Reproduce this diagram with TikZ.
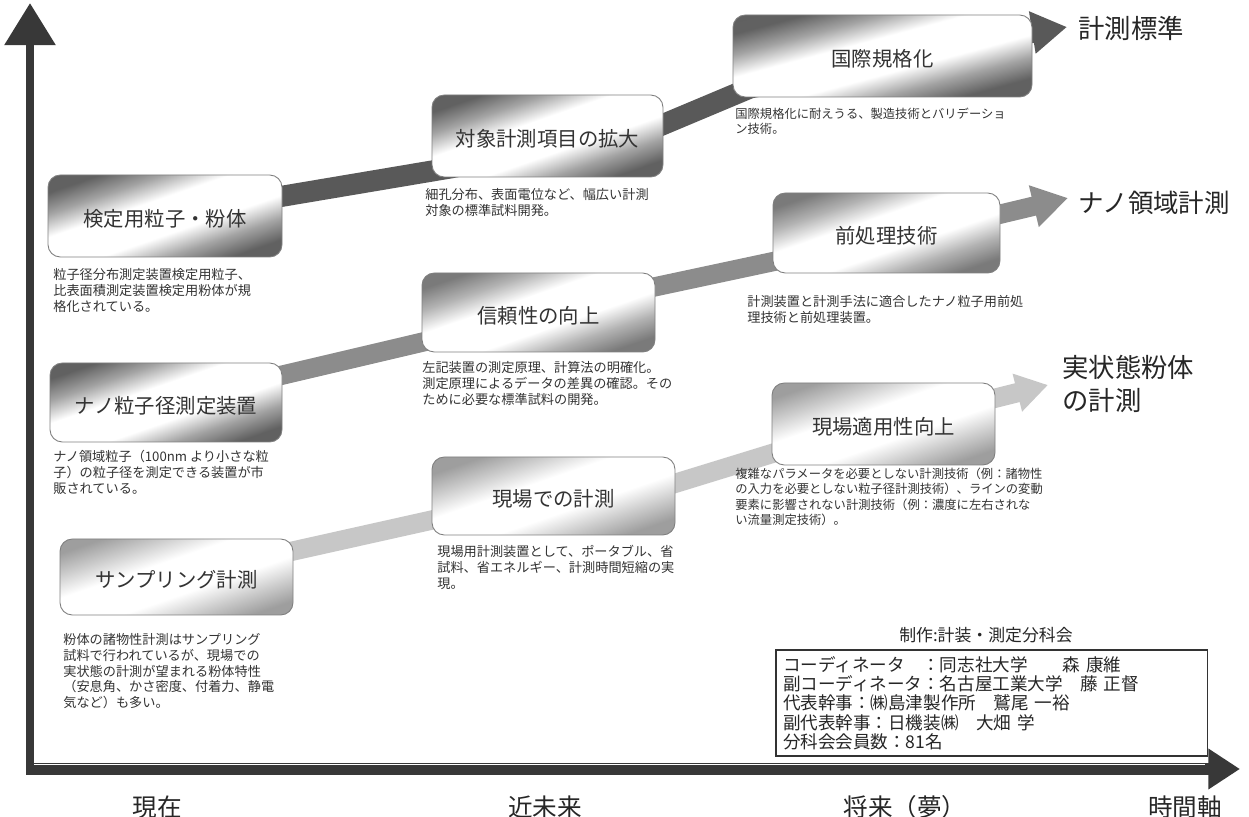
\documentclass[tikz,border=0pt]{standalone}
\usepackage{fontspec}
\setmainfont{Noto Sans CJK JP}
\usetikzlibrary{arrows.meta}
\pgfdeclarelayer{bg}
\pgfdeclarelayer{background}
\pgfsetlayers{bg,background,main}
\pgfdeclareverticalshading{shdark}{100bp}{color(0bp)=(black!66); color(40.6bp)=(black!62); color(43.8bp)=(black!36); color(47.2bp)=(white); color(52.8bp)=(white); color(56.2bp)=(black!36); color(59.4bp)=(black!62); color(100bp)=(black!66)}
\pgfdeclareverticalshading{shmid}{100bp}{color(0bp)=(black!56); color(40.6bp)=(black!52); color(43.8bp)=(black!30); color(47.2bp)=(white); color(52.8bp)=(white); color(56.2bp)=(black!30); color(59.4bp)=(black!52); color(100bp)=(black!56)}
\pgfdeclareverticalshading{shlight}{100bp}{color(0bp)=(black!42); color(40.6bp)=(black!38); color(43.8bp)=(black!20); color(47.2bp)=(white); color(52.8bp)=(white); color(56.2bp)=(black!20); color(59.4bp)=(black!38); color(100bp)=(black!42)}
\begin{document}
\begin{tikzpicture}[x=0.02cm,y=-0.02cm,
  boxangle/.store in=\boxang, boxangle=19,
  box/.style={draw=black!50, line width=0.5pt, rounded corners=7pt,
    path picture={\shade[shading=#1, shading angle=\boxang]
      ([shift={(-160,-160)}]path picture bounding box.center) rectangle
      ([shift={(160,160)}]path picture bounding box.center);},
    font=\fontsize{11.6}{13}\selectfont, text=black!80, inner sep=0pt,
    text height=1.2em, text depth=0pt},
  box/.default=shdark,
  desc/.style={anchor=north west, align=left, inner sep=0pt,
    font=\fontsize{7.5}{9}\selectfont, text=black!80},
  lab/.style={anchor=west, inner sep=0pt, align=left,
    font=\fontsize{15}{18.7}\selectfont, text=black!85},
  tlab/.style={inner sep=0pt, font=\fontsize{14}{16}\selectfont, text=black!85},
  bandA/.style={line width=12pt, draw=black!65, line join=round,
    -{Triangle[length=20pt,width=23pt]}},
  bandB/.style={line width=11pt, draw=black!45, line join=round,
    -{Triangle[length=20pt,width=23pt]}},
  bandC/.style={line width=11pt, draw=black!22, line join=round,
    -{Triangle[length=18pt,width=21pt]}},
  axisline/.style={draw=black!78, line width=5pt},
]
\begin{pgfonlayer}{bg}
\fill[white] (0,0) rectangle (1249,817);
\end{pgfonlayer}
\useasboundingbox (0,0) rectangle (1249,817);

% ---- boxes ----
\node[box=shdark, minimum width=234*0.02cm, minimum height=82*0.02cm] (kentei) at (165,216) {検定用粒子・粉体};
\node[box=shdark, minimum width=232*0.02cm, minimum height=79*0.02cm] (nano) at (166,402.5) {ナノ粒子径測定装置};
\node[box=shlight, minimum width=233*0.02cm, minimum height=76*0.02cm] (samp) at (176.5,577) {サンプリング計測};
\node[box=shdark, minimum width=231*0.02cm, minimum height=82*0.02cm] (taisho) at (547.5,136) {対象計測項目の拡大};
\node[box=shmid, minimum width=233*0.02cm, minimum height=79*0.02cm] (shinrai) at (538.5,312.5) {信頼性の向上};
\node[box=shlight, minimum width=243*0.02cm, minimum height=78*0.02cm] (genba) at (553.5,496) {現場での計測};
\node[boxangle=15, box=shdark, minimum width=299*0.02cm, minimum height=82*0.02cm] (kokusai) at (882.5,56) {国際規格化};
\node[box=shmid, minimum width=227*0.02cm, minimum height=80*0.02cm] (maeshori) at (886.5,233) {前処理技術};
\node[box=shlight, minimum width=223*0.02cm, minimum height=82*0.02cm] (genbatek) at (883.5,424) {現場適用性向上};

% ---- descriptions ----
\node[desc] (d1) at (53,268) {粒子径分布測定装置検定用粒子、\\比表面積測定装置検定用粉体が規\\格化されている。};
\node[desc] (d2) at (53,450) {ナノ領域粒子（100nm より小さな粒\\子）の粒子径を測定できる装置が市\\販されている。};
\node[desc] (d3) at (63,633) {粉体の諸物性計測はサンプリング\\試料で行われているが、現場での\\実状態の計測が望まれる粉体特性\\（安息角、かさ密度、付着力、静電\\気など）も多い。};
\node[desc] (d4) at (425,188) {細孔分布、表面電位など、幅広い計測\\対象の標準試料開発。};
\node[desc] (d5) at (422,361) {左記装置の測定原理、計算法の明確化。\\測定原理によるデータの差異の確認。その\\ために必要な標準試料の開発。};
\node[desc] (d6) at (437,545) {現場用計測装置として、ポータブル、省\\試料、省エネルギー、計測時間短縮の実\\現。};
\node[desc, font=\fontsize{7}{8.6}\selectfont] (d7) at (735,108) {国際規格化に耐えうる、製造技術とバリデーショ\\ン技術。};
\node[desc] (d8) at (747,295) {計測装置と計測手法に適合したナノ粒子用前処\\理技術と前処理装置。};
\node[desc, font=\fontsize{7}{8.6}\selectfont] (d9) at (735,468) {複雑なパラメータを必要としない計測技術（例：諸物性\\の入力を必要としない粒子径計測技術）、ラインの変動\\要素に影響されない計測技術（例：濃度に左右されな\\い流量測定技術）。};

% ---- goal labels ----
\node[lab] (g1) at (1078,28) {計測標準};
\node[lab, font=\fontsize{14.5}{18}\selectfont] (g2) at (1078,203) {ナノ領域計測};
\node[lab, anchor=north west] (g3) at (1062,355) {実状態粉体\\の計測};

% ---- band bend points (inside boxes) and tips ----
\coordinate (a1) at (450,168); \coordinate (a2) at (650,130);
\coordinate (a3) at (750,88);  \coordinate (a4) at (1010,36);
\coordinate (tipA) at (1067,27);
\coordinate (b1) at (440,338); \coordinate (b2) at (640,290);
\coordinate (b3) at (790,258); \coordinate (b4) at (980,219);
\coordinate (tipB) at (1068,198);
\coordinate (c1) at (450,516); \coordinate (c2) at (660,488);
\coordinate (c3) at (790,448); \coordinate (c4) at (980,402);
\coordinate (tipC) at (1048,385);

\begin{pgfonlayer}{background}
\draw[bandA] (kentei.center) -- (a1) -- (a2) -- (a3) -- (a4) -- (tipA);
\draw[bandB] (nano.center) -- (b1) -- (b2) -- (b3) -- (b4) -- (tipB);
\draw[bandC] (samp.center) -- (c1) -- (c2) -- (c3) -- (c4) -- (tipC);
\end{pgfonlayer}

% ---- committee ----
\node[inner sep=0pt, font=\fontsize{9.6}{11}\selectfont, text=black!85] (seisaku) at (986,635) {制作:計装・測定分科会};
\node[draw=black!80, line width=0.6pt, fill=white, minimum width=431*0.02cm, minimum height=106*0.02cm,
  text width=417*0.02cm, align=left, inner xsep=4pt, inner ysep=0pt,
  font=\fontsize{10}{11}\selectfont, text=black!85] (comm) at (991.5,703)
  {コーディネータ　：同志社大学　　森 康維\\副コーディネータ：名古屋工業大学　藤 正督\\代表幹事：㈱島津製作所　鷲尾 一裕\\副代表幹事：日機装㈱　大畑 学\\分科会会員数：81名};

% ---- axes ----
\coordinate (O) at (30,769);
\coordinate (ytip) at (30,3);
\coordinate (xtip) at (1240,769);
\draw[axisline, -{Triangle[length=24pt,width=28pt]}] (O) -- (ytip);
\draw[axisline, line width=7pt, -{Triangle[length=18pt,width=22pt]}] (26,769) -- (xtip);
\draw[white, line width=0.5pt] (34,764) -- (1205,764);

% ---- time labels ----
\node[tlab] (t1) at (157,807) {現在};
\node[tlab] (t2) at (545,807) {近未来};
\node[tlab] (t3) at (905,807) {将来（夢）};
\node[tlab] (t4) at (1185,807) {時間軸};
\end{tikzpicture}
\end{document}
